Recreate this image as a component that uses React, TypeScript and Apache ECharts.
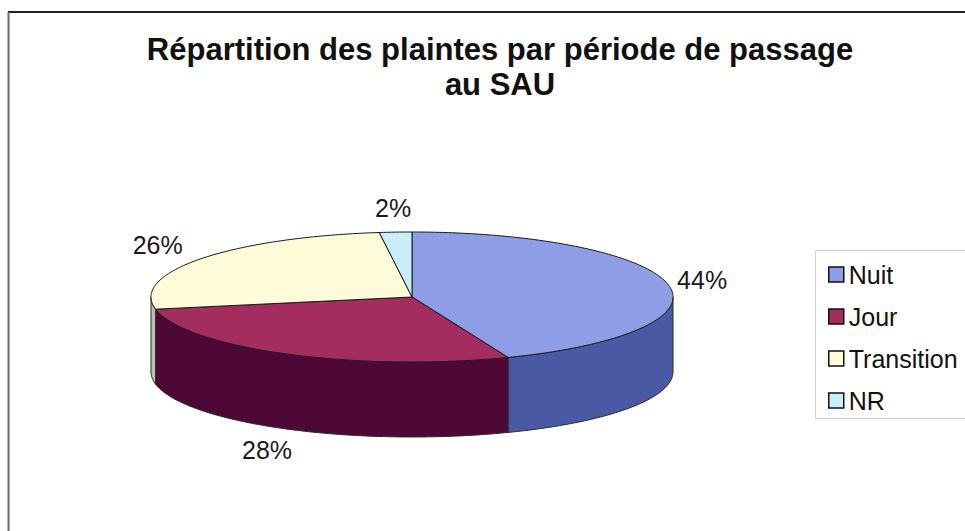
import React, { useEffect, useRef } from "react";
import * as echarts from "echarts";

const categories = ["Nuit", "Jour", "Transition", "NR"];
const values = [44, 28, 26, 2];
const topColors = ["#8e9ee6", "#a52c5e", "#fdfbd8", "#c8eef8"];
const sideColors = ["#4a59a3", "#4e0836", "#bdbcae", "#8fb3bf"];
const titleText = "Répartition des plaintes par période de passage\nau SAU";

const FONT = "'Liberation Sans', Arial, sans-serif";
const CX = 412;
const CY = 297;
const RX = 261;
const RY = 65;
const DEPTH = 75;

function makeRender(k: number) {
  return (params: any, api: any) => {
    const total = values.reduce((a, b) => a + b, 0);
    const before = values.slice(0, k).reduce((a, b) => a + b, 0);
    const v = api.value(0);
    const a0 = (before / total) * 2 * Math.PI;
    const a1 = ((before + v) / total) * 2 * Math.PI;
    const pt = (t: number, d: number) => [CX + RX * Math.sin(t), CY - RY * Math.cos(t) + d];
    const arc = (s: number, e: number, d: number) => {
      const n = Math.max(2, Math.ceil((e - s) / (Math.PI / 180)));
      const pts: number[][] = [];
      for (let i = 0; i <= n; i++) pts.push(pt(s + ((e - s) * i) / n, d));
      return pts;
    };
    const children: any[] = [];
    const s = Math.max(a0, Math.PI / 2);
    const e = Math.min(a1, (3 * Math.PI) / 2);
    if (e > s) {
      children.push({
        type: "polygon",
        z2: 1,
        shape: { points: [...arc(s, e, 0), ...arc(s, e, DEPTH).reverse()] },
        style: { fill: sideColors[k], stroke: "#2a2a2a", lineWidth: 1 },
      });
    }
    children.push({
      type: "polygon",
      z2: 2,
      shape: { points: [[CX, CY], ...arc(a0, a1, 0)] },
      style: { fill: topColors[k], stroke: "#1a1a1a", lineWidth: 1, lineJoin: "round" },
    });
    const m = (a0 + a1) / 2;
    const sn = Math.sin(m);
    const cs = Math.cos(m);
    const g = 15;
    const px = CX + (RX + g) * sn;
    const py = CY - (RY + g) * cs + (cs < 0 ? DEPTH : 0);
    const align = sn > 0.5 ? "left" : sn < -0.5 ? "right" : "center";
    const lx = align === "center" ? px + sn * 25 : px - 6;
    const ly = py - cs * 9;
    const pct = Math.round((v / total) * 100) + "%";
    children.push({
      type: "text",
      z2: 3,
      x: lx,
      y: ly,
      style: {
        text: pct,
        fill: "#1a1a1a",
        fontSize: 25,
        fontFamily: FONT,
        align,
        verticalAlign: "middle",
      },
    });
    return { type: "group", children };
  };
}

export default function App() {
  const ref = useRef<HTMLDivElement>(null);
  useEffect(() => {
    if (!ref.current) return;
    const chart = echarts.init(ref.current, null, { renderer: "svg" });
    chart.setOption({
      animation: false,
      backgroundColor: "#ffffff",
      title: {
        text: titleText,
        left: 495,
        top: 27,
        textAlign: "center",
        textStyle: {
          fontSize: 31,
          fontWeight: "bold",
          fontFamily: FONT,
          color: "#111111",
          lineHeight: 35,
        },
      },
      legend: {
        orient: "vertical",
        left: 823,
        top: 257,
        data: categories,
        icon: "rect",
        itemWidth: 15,
        itemHeight: 15,
        itemGap: 17,
        selectedMode: false,
        itemStyle: { borderColor: "#111111", borderWidth: 1.5 },
        textStyle: { fontSize: 25, lineHeight: 24, fontFamily: FONT, color: "#111111" },
      },
      graphic: [
        {
          type: "rect",
          z: -1,
          shape: { x: 815.5, y: 250.5, width: 170, height: 168 },
          style: { fill: "#ffffff", stroke: "#c9d6c9", lineWidth: 1 },
        },
        {
          type: "line",
          shape: { x1: 8, y1: 12, x2: 965, y2: 12 },
          style: { stroke: "#222222", lineWidth: 2 },
        },
        {
          type: "line",
          shape: { x1: 8.5, y1: 12, x2: 8.5, y2: 531 },
          style: { stroke: "#666666", lineWidth: 2 },
        },
      ],
      series: categories.map((name, k) => ({
        type: "custom",
        name,
        coordinateSystem: "none",
        itemStyle: { color: topColors[k] },
        renderItem: makeRender(k),
        data: [[values[k]]],
      })),
    });
    return () => chart.dispose();
  }, []);
  return (
    <div
      ref={ref}
      style={{ position: "fixed", left: 0, top: 0, width: 965, height: 531 }}
    />
  );
}
